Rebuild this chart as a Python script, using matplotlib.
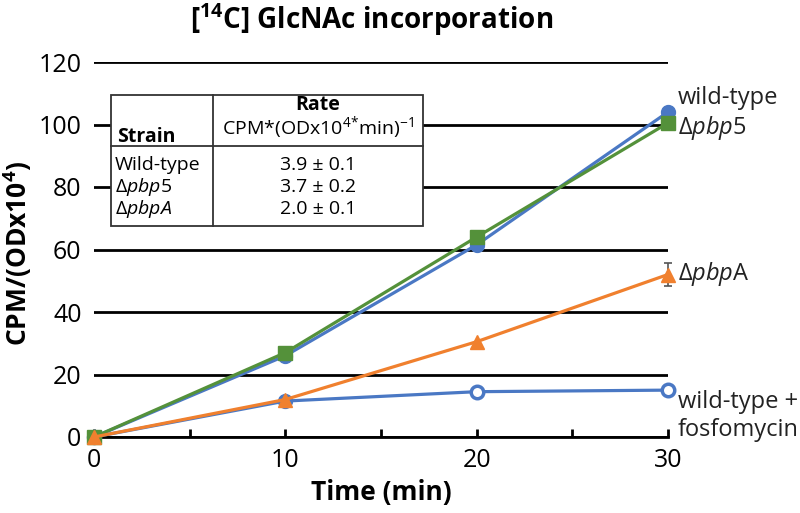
import numpy as np
import matplotlib
matplotlib.use("Agg")
import matplotlib.pyplot as plt
from matplotlib.patches import Rectangle
from matplotlib.ticker import MultipleLocator

plt.rcParams['font.family'] = ['Open Sans', 'DejaVu Sans']
plt.rcParams['mathtext.fontset'] = 'custom'
plt.rcParams['mathtext.rm'] = 'Open Sans'
plt.rcParams['mathtext.it'] = 'Open Sans:italic'
plt.rcParams['mathtext.bf'] = 'Open Sans:bold'

# data
time = [0, 10, 20, 30]
wild_type = [0, 26, 61.5, 104]
pbp5 = [0, 27, 64, 100.5]
pbpA = [0, 12, 30.5, 52]
pbpA_err = [0, 0, 0, 3.8]
fosfo = [0, 11.5, 14.5, 15]

end_labels = ['wild-type', r'$\Delta\mathit{pbp5}$', r'$\Delta\mathit{pbp}$A',
              'wild-type +\nfosfomycin']
table_strains = ['Wild-type', r'$\mathit{\Delta pbp5}$', r'$\mathit{\Delta pbpA}$']
table_rates = ['3.9 ± 0.1', '3.7 ± 0.2', '2.0 ± 0.1']

blue = '#4a78c4'
green = '#54913a'
orange = '#f0802e'

fig = plt.figure(figsize=(8, 5.13), dpi=100)
ax = fig.add_axes([94/800, 76/513, 574/800, 375/513])

ax.plot(time, wild_type, color=blue, lw=2.3, marker='o', ms=10, clip_on=False, zorder=4)
ax.plot(time, pbp5, color=green, lw=2.3, marker='s', ms=9.5, clip_on=False, zorder=5)
ax.plot(time, fosfo, color=blue, lw=2.3, clip_on=False, zorder=4)
ax.plot(time[:2], fosfo[:2], ls='none', marker='o', ms=10, color=blue, clip_on=False, zorder=4)
ax.plot(time[2:], fosfo[2:], ls='none', marker='o', ms=9, mfc='white', mec=blue,
        mew=2.5, clip_on=False, zorder=4)
ax.plot(time, pbpA, color=orange, lw=2.3, marker='^', ms=10, clip_on=False, zorder=6)
ax.errorbar(time[3:], pbpA[3:], yerr=pbpA_err[3:], fmt='none', ecolor='#555555',
            elinewidth=1.2, capsize=3, capthick=1.2, clip_on=False, zorder=3)

ax.set_xlim(0, 30)
ax.set_ylim(0, 120)
ax.set_yticks(np.arange(0, 121, 20))
ax.xaxis.set_major_locator(MultipleLocator(10))
ax.xaxis.set_minor_locator(MultipleLocator(5))
ax.yaxis.grid(True, color='black', lw=2)
ax.set_axisbelow(True)
for s in ['top', 'right', 'left']:
    ax.spines[s].set_visible(False)
ax.spines['bottom'].set_linewidth(2)
ax.tick_params(axis='x', which='both', direction='in', length=6, width=2,
               labelsize=18, pad=8)
ax.tick_params(axis='y', length=0, labelsize=18, pad=9)

ax.set_xlabel('Time (min)', fontsize=19, fontweight='bold')
ax.xaxis.set_label_coords(0.5, -0.149)
ax.xaxis.label.set_va('center')
ax.set_ylabel(r'CPM/(ODx10$^{\mathbf{4}}$)', fontsize=19, fontweight='bold')
ax.yaxis.set_label_coords(-0.133, 0.49)
ax.yaxis.label.set_va('center')
fig.text(372/800, 1 - 20/513, r'[$^{\mathbf{14}}$C] GlcNAc incorporation', fontsize=20,
         fontweight='bold', ha='center', va='center')

# end labels
label_y = [108.5, 99, 52, 6.7]
for txt, yv in zip(end_labels, label_y):
    ax.text(30.5, yv, txt, fontsize=17, va='center', ha='left', clip_on=False,
            color='#222222', linespacing=1.2)

# rate table
x0, x1, xm = 0.89, 17.2, 6.22
y0, y1, ym = 67.5, 109.4, 93.1
ax.add_patch(Rectangle((x0, y0), x1 - x0, y1 - y0, facecolor='white',
                       edgecolor='#333333', lw=1.3, zorder=7))
ax.plot([x0, x1], [ym, ym], color='#333333', lw=1.3, zorder=8)
ax.plot([xm, xm], [y0, y1], color='#333333', lw=1.3, zorder=8)
xc = (xm + x1) / 2
ax.text(xc, 106.2, 'Rate', fontsize=14, fontweight='bold', ha='center', va='center', zorder=9)
ax.text(xc, 98.9, r'CPM*(ODx10$^{4}$$^{*}$min)$^{-1}$', fontsize=14, ha='center',
        va='center', zorder=9)
ax.text(x0 + 0.3, 96, 'Strain', fontsize=14, fontweight='bold', ha='left', va='center', zorder=9)
for i, (s, r) in enumerate(zip(table_strains, table_rates)):
    yy = 87 - i * 7
    ax.text(x0 + 0.2, yy, s, fontsize=14, ha='left', va='center', zorder=9)
    ax.text(xc, yy, r, fontsize=14, ha='center', va='center', zorder=9)

fig.savefig('out.png', dpi=100)
